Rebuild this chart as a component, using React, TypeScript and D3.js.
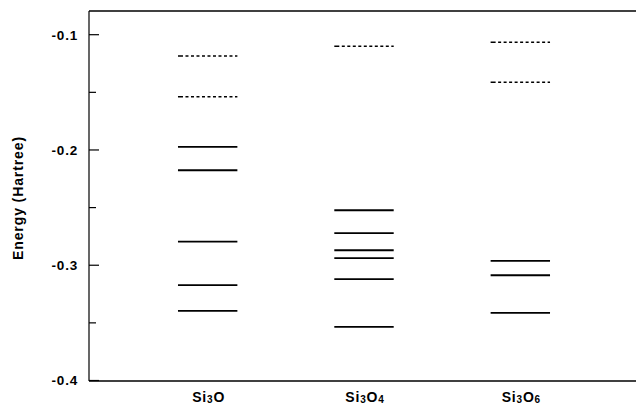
import React from "react";
import * as d3 from "d3";

const categories = ["Si3O", "Si3O4", "Si3O6"];
const subscripts: [string, string, string][] = [
  ["Si", "3", "O"],
  ["Si", "3", "O4"],
  ["Si", "3", "O6"],
];
const occupiedSi3O = [-0.1974, -0.2176, -0.2795, -0.3173, -0.3396];
const virtualSi3O = [-0.1185, -0.1538];
const occupiedSi3O4 = [-0.2523, -0.2722, -0.287, -0.2939, -0.3121, -0.3535];
const virtualSi3O4 = [-0.110];
const occupiedSi3O6 = [-0.2963, -0.3087, -0.3414];
const virtualSi3O6 = [-0.1066, -0.1413];
const occupied = [occupiedSi3O, occupiedSi3O4, occupiedSi3O6];
const virtual = [virtualSi3O, virtualSi3O4, virtualSi3O6];
const majorTicks = [-0.1, -0.2, -0.3, -0.4];
const minorTicks = [-0.15, -0.25, -0.35];

const W = 636;
const H = 405;
const left = 89;
const top = 11;
const bottom = 381;

export default function App() {
  const y = d3.scaleLinear().domain([-0.4, -0.1]).range([380.5, 34.7]);
  const x = d3.scaleBand().domain(categories).range([92, 636]).paddingInner(0.62).paddingOuter(0.55);
  const font = "'Liberation Sans', Arial, Helvetica, sans-serif";
  return (
    <svg width={W} height={H} style={{ position: "absolute", left: 0, top: 0, background: "#fff" }}>
      <g fontFamily={font} fontWeight="bold" fill="#000">
        <line x1={left} x2={W} y1={top} y2={top} stroke="#000" strokeWidth={1.5} />
        <line x1={left} x2={W} y1={bottom} y2={bottom} stroke="#000" strokeWidth={1.5} />
        <line x1={left} x2={left} y1={top} y2={bottom} stroke="#000" strokeWidth={1.2} />
        {majorTicks.map((t) => (
          <g key={"M" + t}>
            <line x1={left} x2={left + 10} y1={y(t)} y2={y(t)} stroke="#000" strokeWidth={1.2} />
            <text x={78} y={y(t)} dy="0.36em" textAnchor="end" fontSize={13.5} letterSpacing={0.8}>
              {d3.format(".1f")(t).replace("−", "-")}
            </text>
          </g>
        ))}
        {minorTicks.map((t) => (
          <line key={"m" + t} x1={left} x2={left + 7} y1={y(t)} y2={y(t)} stroke="#000" strokeWidth={1.2} />
        ))}
        <text transform={`translate(23,198) rotate(-90)`} textAnchor="middle" fontSize={14} letterSpacing={0.9}>
          Energy (Hartree)
        </text>
        {categories.map((c, i) => {
          const x0 = x(c)!;
          const x1 = x0 + x.bandwidth();
          const s = subscripts[i];
          return (
            <g key={c}>
              {occupied[i].map((v, j) => (
                <line key={"o" + j} x1={x0} x2={x1} y1={y(v)} y2={y(v)} stroke="#000" strokeWidth={1.8} />
              ))}
              {virtual[i].map((v, j) => (
                <line key={"v" + j} x1={x0} x2={x1} y1={y(v)} y2={y(v)} stroke="#000" strokeWidth={1.6}
                  strokeDasharray="5,2.5,3,2.5,3,2.5,3,2.5,3,2.5,3,2.5,3,2.5,3,2.5,3,2.5,3,2.5,3,2.5,3,2.5,3,2.5,3,2.5,3,2.5,3,2.5,3,2.5,3,2.5,3,2.5,3,2.5,3,2.5,3,2.5,3,2.5,3,2.5,8" />
              ))}
              <text x={(x0 + x1) / 2 + 1} y={402} textAnchor="middle" fontSize={14} letterSpacing={0.8}>
                {s[0]}
                <tspan fontSize={10} dy={1}>{s[1]}</tspan>
                <tspan dy={-1}>{s[2].charAt(0)}</tspan>
                {s[2].length > 1 ? <tspan fontSize={10} dy={1}>{s[2].slice(1)}</tspan> : null}
              </text>
            </g>
          );
        })}
      </g>
    </svg>
  );
}
